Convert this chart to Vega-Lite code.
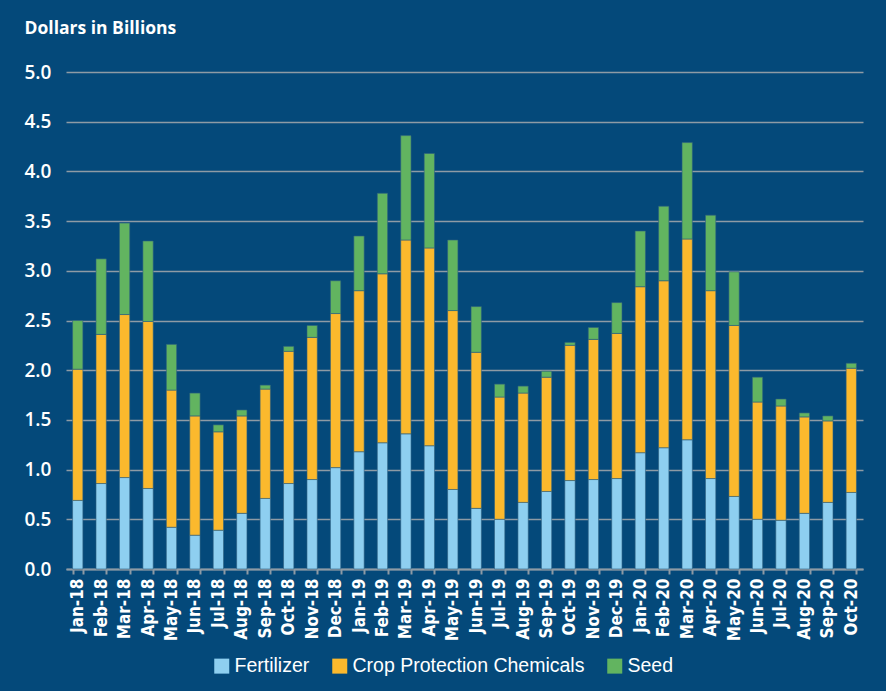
{
  "$schema": "https://vega.github.io/schema/vega-lite/v6.json",
  "width": 797,
  "height": 497,
  "autosize": {"type": "none"},
  "padding": {"left": 66, "top": 72, "right": 23, "bottom": 122},
  "background": "#04497A",
  "config": {
    "view": {"stroke": null},
    "font": "Liberation Sans"
  },
  "data": {
    "values": [
      {"month": "Jan-18", "type": "Fertilizer", "value": 0.69},
      {"month": "Jan-18", "type": "Crop Protection Chemicals", "value": 1.32},
      {"month": "Jan-18", "type": "Seed", "value": 0.49},
      {"month": "Feb-18", "type": "Fertilizer", "value": 0.86},
      {"month": "Feb-18", "type": "Crop Protection Chemicals", "value": 1.50},
      {"month": "Feb-18", "type": "Seed", "value": 0.76},
      {"month": "Mar-18", "type": "Fertilizer", "value": 0.92},
      {"month": "Mar-18", "type": "Crop Protection Chemicals", "value": 1.64},
      {"month": "Mar-18", "type": "Seed", "value": 0.92},
      {"month": "Apr-18", "type": "Fertilizer", "value": 0.81},
      {"month": "Apr-18", "type": "Crop Protection Chemicals", "value": 1.68},
      {"month": "Apr-18", "type": "Seed", "value": 0.81},
      {"month": "May-18", "type": "Fertilizer", "value": 0.42},
      {"month": "May-18", "type": "Crop Protection Chemicals", "value": 1.38},
      {"month": "May-18", "type": "Seed", "value": 0.46},
      {"month": "Jun-18", "type": "Fertilizer", "value": 0.34},
      {"month": "Jun-18", "type": "Crop Protection Chemicals", "value": 1.20},
      {"month": "Jun-18", "type": "Seed", "value": 0.23},
      {"month": "Jul-18", "type": "Fertilizer", "value": 0.39},
      {"month": "Jul-18", "type": "Crop Protection Chemicals", "value": 0.99},
      {"month": "Jul-18", "type": "Seed", "value": 0.07},
      {"month": "Aug-18", "type": "Fertilizer", "value": 0.56},
      {"month": "Aug-18", "type": "Crop Protection Chemicals", "value": 0.98},
      {"month": "Aug-18", "type": "Seed", "value": 0.06},
      {"month": "Sep-18", "type": "Fertilizer", "value": 0.71},
      {"month": "Sep-18", "type": "Crop Protection Chemicals", "value": 1.10},
      {"month": "Sep-18", "type": "Seed", "value": 0.04},
      {"month": "Oct-18", "type": "Fertilizer", "value": 0.86},
      {"month": "Oct-18", "type": "Crop Protection Chemicals", "value": 1.33},
      {"month": "Oct-18", "type": "Seed", "value": 0.05},
      {"month": "Nov-18", "type": "Fertilizer", "value": 0.90},
      {"month": "Nov-18", "type": "Crop Protection Chemicals", "value": 1.43},
      {"month": "Nov-18", "type": "Seed", "value": 0.12},
      {"month": "Dec-18", "type": "Fertilizer", "value": 1.02},
      {"month": "Dec-18", "type": "Crop Protection Chemicals", "value": 1.55},
      {"month": "Dec-18", "type": "Seed", "value": 0.33},
      {"month": "Jan-19", "type": "Fertilizer", "value": 1.18},
      {"month": "Jan-19", "type": "Crop Protection Chemicals", "value": 1.62},
      {"month": "Jan-19", "type": "Seed", "value": 0.55},
      {"month": "Feb-19", "type": "Fertilizer", "value": 1.27},
      {"month": "Feb-19", "type": "Crop Protection Chemicals", "value": 1.70},
      {"month": "Feb-19", "type": "Seed", "value": 0.81},
      {"month": "Mar-19", "type": "Fertilizer", "value": 1.36},
      {"month": "Mar-19", "type": "Crop Protection Chemicals", "value": 1.95},
      {"month": "Mar-19", "type": "Seed", "value": 1.05},
      {"month": "Apr-19", "type": "Fertilizer", "value": 1.24},
      {"month": "Apr-19", "type": "Crop Protection Chemicals", "value": 1.99},
      {"month": "Apr-19", "type": "Seed", "value": 0.95},
      {"month": "May-19", "type": "Fertilizer", "value": 0.80},
      {"month": "May-19", "type": "Crop Protection Chemicals", "value": 1.80},
      {"month": "May-19", "type": "Seed", "value": 0.71},
      {"month": "Jun-19", "type": "Fertilizer", "value": 0.61},
      {"month": "Jun-19", "type": "Crop Protection Chemicals", "value": 1.57},
      {"month": "Jun-19", "type": "Seed", "value": 0.46},
      {"month": "Jul-19", "type": "Fertilizer", "value": 0.50},
      {"month": "Jul-19", "type": "Crop Protection Chemicals", "value": 1.23},
      {"month": "Jul-19", "type": "Seed", "value": 0.13},
      {"month": "Aug-19", "type": "Fertilizer", "value": 0.67},
      {"month": "Aug-19", "type": "Crop Protection Chemicals", "value": 1.10},
      {"month": "Aug-19", "type": "Seed", "value": 0.07},
      {"month": "Sep-19", "type": "Fertilizer", "value": 0.78},
      {"month": "Sep-19", "type": "Crop Protection Chemicals", "value": 1.15},
      {"month": "Sep-19", "type": "Seed", "value": 0.06},
      {"month": "Oct-19", "type": "Fertilizer", "value": 0.89},
      {"month": "Oct-19", "type": "Crop Protection Chemicals", "value": 1.36},
      {"month": "Oct-19", "type": "Seed", "value": 0.03},
      {"month": "Nov-19", "type": "Fertilizer", "value": 0.90},
      {"month": "Nov-19", "type": "Crop Protection Chemicals", "value": 1.41},
      {"month": "Nov-19", "type": "Seed", "value": 0.12},
      {"month": "Dec-19", "type": "Fertilizer", "value": 0.91},
      {"month": "Dec-19", "type": "Crop Protection Chemicals", "value": 1.46},
      {"month": "Dec-19", "type": "Seed", "value": 0.31},
      {"month": "Jan-20", "type": "Fertilizer", "value": 1.17},
      {"month": "Jan-20", "type": "Crop Protection Chemicals", "value": 1.67},
      {"month": "Jan-20", "type": "Seed", "value": 0.56},
      {"month": "Feb-20", "type": "Fertilizer", "value": 1.22},
      {"month": "Feb-20", "type": "Crop Protection Chemicals", "value": 1.68},
      {"month": "Feb-20", "type": "Seed", "value": 0.75},
      {"month": "Mar-20", "type": "Fertilizer", "value": 1.30},
      {"month": "Mar-20", "type": "Crop Protection Chemicals", "value": 2.02},
      {"month": "Mar-20", "type": "Seed", "value": 0.97},
      {"month": "Apr-20", "type": "Fertilizer", "value": 0.91},
      {"month": "Apr-20", "type": "Crop Protection Chemicals", "value": 1.89},
      {"month": "Apr-20", "type": "Seed", "value": 0.76},
      {"month": "May-20", "type": "Fertilizer", "value": 0.73},
      {"month": "May-20", "type": "Crop Protection Chemicals", "value": 1.72},
      {"month": "May-20", "type": "Seed", "value": 0.54},
      {"month": "Jun-20", "type": "Fertilizer", "value": 0.50},
      {"month": "Jun-20", "type": "Crop Protection Chemicals", "value": 1.18},
      {"month": "Jun-20", "type": "Seed", "value": 0.25},
      {"month": "Jul-20", "type": "Fertilizer", "value": 0.49},
      {"month": "Jul-20", "type": "Crop Protection Chemicals", "value": 1.15},
      {"month": "Jul-20", "type": "Seed", "value": 0.07},
      {"month": "Aug-20", "type": "Fertilizer", "value": 0.56},
      {"month": "Aug-20", "type": "Crop Protection Chemicals", "value": 0.97},
      {"month": "Aug-20", "type": "Seed", "value": 0.04},
      {"month": "Sep-20", "type": "Fertilizer", "value": 0.67},
      {"month": "Sep-20", "type": "Crop Protection Chemicals", "value": 0.82},
      {"month": "Sep-20", "type": "Seed", "value": 0.05},
      {"month": "Oct-20", "type": "Fertilizer", "value": 0.77},
      {"month": "Oct-20", "type": "Crop Protection Chemicals", "value": 1.25},
      {"month": "Oct-20", "type": "Seed", "value": 0.05}
    ]
  },
  "transform": [
    {"calculate": "datum.type === 'Fertilizer' ? 0 : datum.type === 'Seed' ? 2 : 1", "as": "ord"}
  ],
  "mark": {"type": "bar", "stroke": "#2d5f80", "strokeWidth": 1, "strokeOpacity": 0.6},
  "encoding": {
    "x": {
      "field": "month",
      "type": "nominal",
      "sort": null,
      "scale": {"paddingInner": 0.56, "paddingOuter": 0.28},
      "axis": {
        "title": null,
        "labelAngle": -90,
        "labelAlign": "right",
        "labelBaseline": "middle",
        "labelFont": "DejaVu Sans Condensed, Liberation Sans",
        "labelFontWeight": "bold",
        "labelFontSize": 17,
        "labelColor": "#ffffff",
        "labelPadding": 4,
        "domainColor": "#8e9ba5",
        "domainWidth": 2,
        "tickColor": "#8e9ba5",
        "tickWidth": 2,
        "tickSize": 5,
        "tickBand": "extent",
        "grid": false
      }
    },
    "y": {
      "field": "value",
      "type": "quantitative",
      "stack": "zero",
      "scale": {"domain": [0, 5]},
      "axis": {
        "title": "Dollars in Billions",
        "titleAngle": 0,
        "titleAlign": "left",
        "titleBaseline": "middle",
        "titleX": -42,
        "titleY": -44,
        "titleFont": "Open Sans",
        "titleFontSize": 17.5,
        "titleFontWeight": "bold",
        "titleColor": "#ffffff",
        "values": [0, 0.5, 1, 1.5, 2, 2.5, 3, 3.5, 4, 4.5, 5],
        "format": ".1f",
        "labelAlign": "left",
        "labelPadding": 42,
        "labelFont": "Open Sans",
        "labelFontSize": 19,
        "labelFontWeight": 600,
        "labelColor": "#ffffff",
        "ticks": false,
        "tickSize": 0,
        "domain": false,
        "grid": true,
        "gridColor": "#8e9ba5",
        "gridWidth": 1.5
      }
    },
    "color": {
      "field": "type",
      "type": "nominal",
      "scale": {
        "domain": ["Fertilizer", "Crop Protection Chemicals", "Seed"],
        "range": ["#8ECFF0", "#FBB92D", "#62B460"]
      },
      "legend": {
        "title": null,
        "orient": "none",
        "direction": "horizontal",
        "legendX": 146,
        "legendY": 584,
        "symbolType": "square",
        "symbolSize": 225,
        "symbolStrokeWidth": 0,
        "symbolOpacity": 1,
        "labelFont": "Liberation Sans",
        "labelFontSize": 19.5,
        "labelLimit": 0,
        "labelColor": "#ffffff",
        "labelOffset": 3,
        "columnPadding": 20
      }
    },
    "order": {"field": "ord", "type": "quantitative"}
  }
}
